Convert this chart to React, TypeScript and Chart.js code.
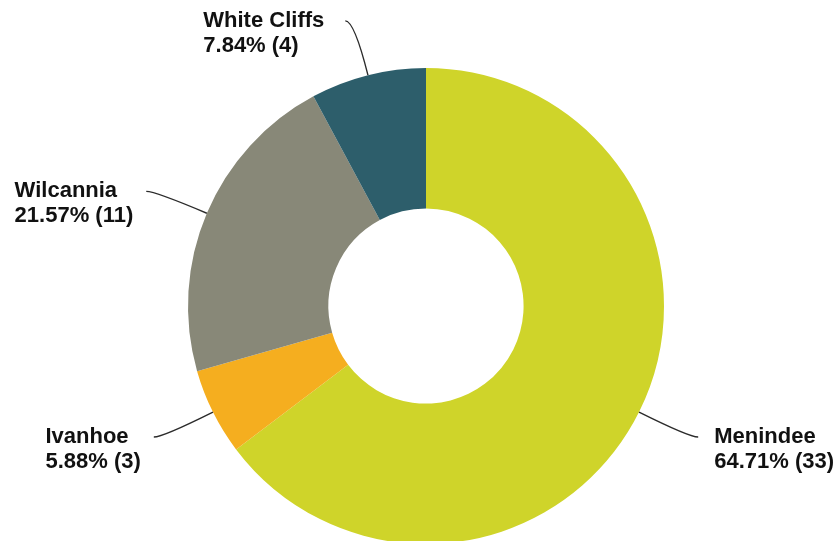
import React, { useEffect, useRef } from "react";
import { Chart, registerables } from "chart.js";

Chart.register(...registerables);

const categories = ["Menindee", "Ivanhoe", "Wilcannia", "White Cliffs"];
const counts = [33, 3, 11, 4];
const colors = ["#cfd42a", "#f5ae1f", "#888878", "#2d5e6b"];

const FONT = "bold 22px 'Liberation Sans', Arial, sans-serif";

const leaderPlugin = {
  id: "leaderLabels",
  afterDatasetsDraw(chart: any) {
    const ctx = chart.ctx;
    const meta = chart.getDatasetMeta(0);
    const data = chart.data.datasets[0].data as number[];
    const total = data.reduce((a, b) => a + b, 0);
    ctx.save();
    ctx.font = FONT;
    meta.data.forEach((arc: any, i: number) => {
      const { x, y, startAngle, endAngle, outerRadius } = arc.getProps(
        ["x", "y", "startAngle", "endAngle", "outerRadius"],
        true
      );
      const mid = (startAngle + endAngle) / 2;
      const cos = Math.cos(mid);
      const sin = Math.sin(mid);
      const p0x = x + cos * outerRadius;
      const p0y = y + sin * outerRadius;
      const ex = x + cos * (outerRadius + 56);
      const ey = y + sin * (outerRadius + 56);
      const right = cos >= 0;
      const sign = right ? 1 : -1;
      const endX = ex + sign * 9;
      const endY = ey;
      ctx.beginPath();
      ctx.moveTo(p0x, p0y);
      ctx.quadraticCurveTo(ex, ey, endX, endY);
      ctx.strokeStyle = "#2b2b2b";
      ctx.lineWidth = 1.4;
      ctx.stroke();

      const line1 = String(chart.data.labels[i]);
      const line2 = ((data[i] / total) * 100).toFixed(2) + "% (" + data[i] + ")";
      const w = Math.max(ctx.measureText(line1).width, ctx.measureText(line2).width);
      const gap = right ? 16 : Math.abs(sin) > 0.8 ? 21 : 13;
      const tx = right ? endX + gap : endX - gap - w;
      ctx.fillStyle = "#111111";
      ctx.textAlign = "left";
      ctx.textBaseline = "middle";
      ctx.fillText(line1, tx, endY);
      ctx.fillText(line2, tx, endY + 25);
    });
    ctx.restore();
  },
};

export default function App() {
  const ref = useRef<HTMLCanvasElement | null>(null);
  useEffect(() => {
    if (!ref.current) return;
    const chart = new Chart(ref.current, {
      type: "doughnut",
      data: {
        labels: categories,
        datasets: [
          {
            data: counts,
            backgroundColor: colors,
            borderWidth: 0,
          },
        ],
      },
      options: {
        responsive: false,
        animation: false,
        cutout: "41%",
        layout: { padding: { left: 188, right: 174, top: 68, bottom: 56 } },
        plugins: {
          legend: { display: false },
          tooltip: { enabled: false },
        },
      },
      plugins: [leaderPlugin],
    });
    return () => chart.destroy();
  }, []);
  return (
    <div
      style={{
        position: "fixed",
        left: 0,
        top: 0,
        width: 838,
        height: 541,
        overflow: "hidden",
        background: "#ffffff",
      }}
    >
      <canvas ref={ref} width={838} height={600} style={{ display: "block" }} />
    </div>
  );
}
